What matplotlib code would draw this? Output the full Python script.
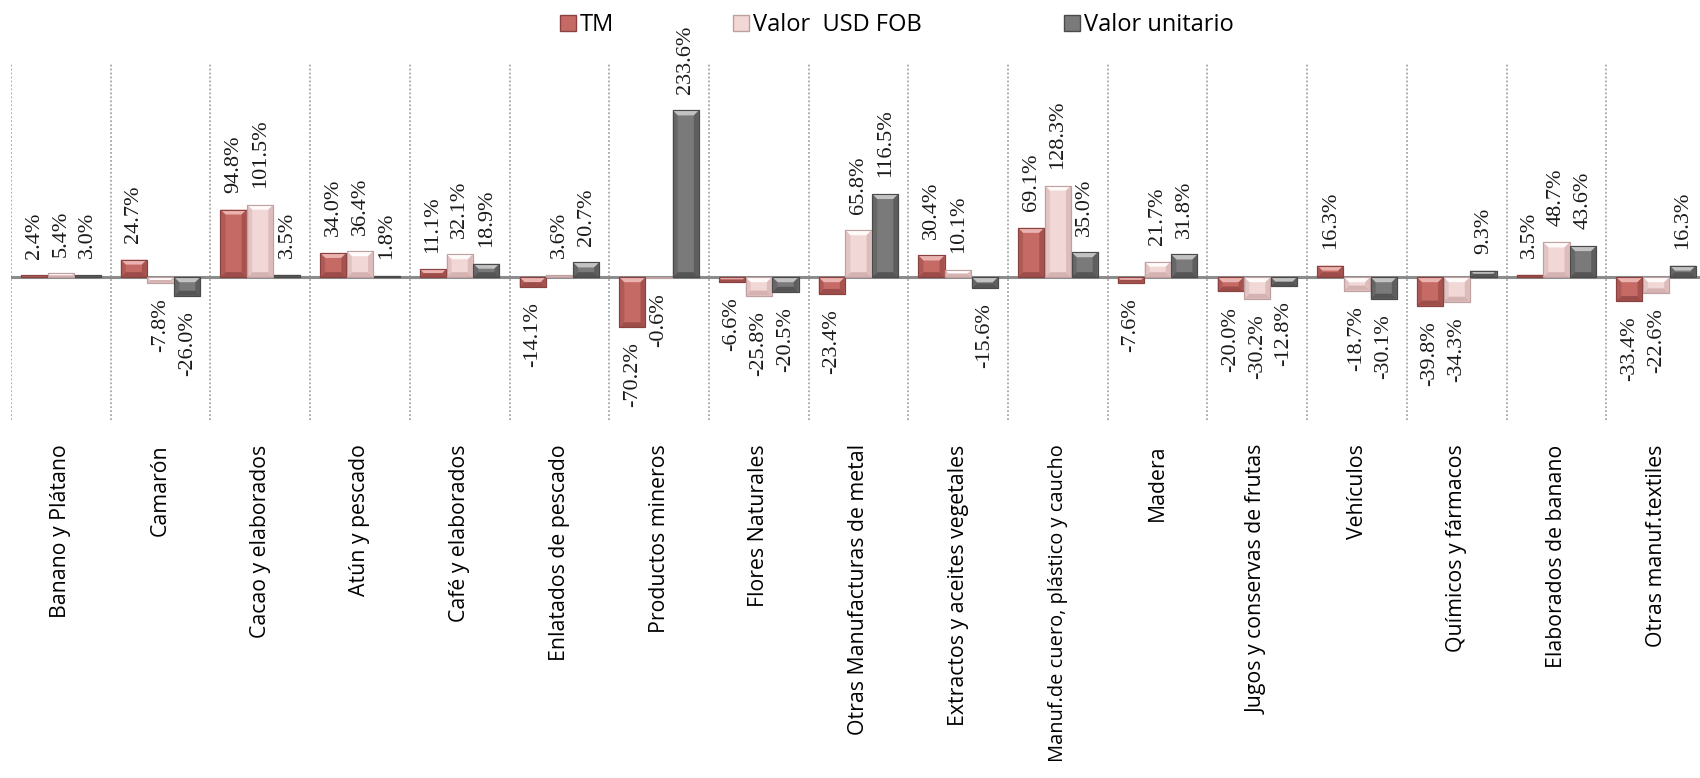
import matplotlib
matplotlib.use("Agg")
import matplotlib.pyplot as plt
from matplotlib.patches import Polygon, Patch
import numpy as np

categories = ["Banano y Plátano", "Camarón", "Cacao y elaborados", "Atún y pescado",
              "Café y elaborados", "Enlatados de pescado", "Productos mineros",
              "Flores Naturales", "Otras Manufacturas de metal",
              "Extractos y aceites vegetales", "Manuf.de cuero, plástico y caucho",
              "Madera", "Jugos y conservas de frutas", "Vehículos",
              "Químicos y fármacos", "Elaborados de banano", "Otras manuf.textiles"]
tm = [2.4, 24.7, 94.8, 34.0, 11.1, -14.1, -70.2, -6.6, -23.4, 30.4, 69.1, -7.6, -20.0, 16.3, -39.8, 3.5, -33.4]
valor = [5.4, -7.8, 101.5, 36.4, 32.1, 3.6, -0.6, -25.8, 65.8, 10.1, 128.3, 21.7, -30.2, -18.7, -34.3, 48.7, -22.6]
unitario = [3.0, -26.0, 3.5, 1.8, 18.9, 20.7, 233.6, -20.5, 116.5, -15.6, 35.0, 31.8, -12.8, -30.1, 9.3, 43.6, 16.3]
series_names = ["TM", "Valor  USD FOB", "Valor unitario"]

# style: (base, light, dark, edge)
styles = [
    ("#c66a66", "#eab3b0", "#9c4c49", "#8a4240"),
    ("#f2d7d7", "#fffafa", "#d6b3b3", "#bfa0a0"),
    ("#7a7a7a", "#c2c2c2", "#555555", "#4a4a4a"),
]

W, H, DPI = 1700, 778, 100
fig = plt.figure(figsize=(W / DPI, H / DPI), dpi=DPI)
ax_left, ax_right, ax_top, ax_bot = 11, 1706, 63, 420
ax = fig.add_axes([ax_left / W, 1 - ax_bot / H, (ax_right - ax_left) / W, (ax_bot - ax_top) / H])
n = len(categories)
x = np.arange(n)
ax.set_xlim(-0.5, n - 0.5)
ax.set_ylim(-200, 300)
for s in ax.spines.values():
    s.set_visible(False)
ax.set_yticks([])

# units per pixel
ux = n / (ax_right - ax_left)
uy = 500 / (ax_bot - ax_top)

bw = 0.262
offsets = [-0.268, 0.0, 0.268]

# category separators
for b in np.arange(-0.5, n, 1.0):
    ax.axvline(b, color="#a6a6a6", lw=1.3, linestyle=(0, (1, 1.2)), zorder=1)

ax.axhline(0, color="#8c8c8c", lw=2.2, zorder=2)

label_font = dict(family=["Liberation Serif", "DejaVu Serif"], size=16, color="#1a1a1a")


def bevel(axis, xc, v, width, style, pxu_x, pxu_y, max_b=5.0, z=3):
    base, light, dark, edge = style
    x0, x1 = xc - width / 2, xc + width / 2
    top, bot = max(0, v), min(0, v)
    hp = (top - bot) / pxu_y
    b = min(max_b, hp / 2.0)
    bx, by = b * pxu_x, b * pxu_y
    if b > 0.3:
        axis.add_patch(Polygon([(x0, top), (x1, top), (x1 - bx, top - by), (x0 + bx, top - by)],
                               closed=True, facecolor=light, edgecolor="none", zorder=z + 1))
        axis.add_patch(Polygon([(x0, top), (x0 + bx, top - by), (x0 + bx, bot + by), (x0, bot)],
                               closed=True, facecolor=dark, edgecolor="none", alpha=0.5, zorder=z + 1))
        axis.add_patch(Polygon([(x1, top), (x1 - bx, top - by), (x1 - bx, bot + by), (x1, bot)],
                               closed=True, facecolor=dark, edgecolor="none", alpha=0.75, zorder=z + 1))
        axis.add_patch(Polygon([(x0, bot), (x0 + bx, bot + by), (x1 - bx, bot + by), (x1, bot)],
                               closed=True, facecolor=dark, edgecolor="none", zorder=z + 1))
        axis.add_patch(Polygon([(x0, top), (x1, top), (x1, bot), (x0, bot)], closed=True,
                               facecolor="none", edgecolor=edge, lw=0.8, zorder=z + 2))


for si, vals in enumerate([tm, valor, unitario]):
    base, light, dark, edge = styles[si]
    xs = x + offsets[si]
    ax.bar(xs, vals, width=bw, color=base, edgecolor=edge, linewidth=0.8, zorder=3)
    for xc, v in zip(xs, vals):
        bevel(ax, xc, v, bw, styles[si], ux, uy)
        if v >= 0:
            ax.annotate(f"{v:.1f}%", (xc, v), xytext=(0, 12), textcoords="offset points",
                        rotation=90, ha="center", va="bottom", **label_font, zorder=6,
                        annotation_clip=False)
        else:
            ax.annotate(f"{v:.1f}%", (xc, v), xytext=(0, -11), textcoords="offset points",
                        rotation=90, ha="center", va="top", **label_font, zorder=6,
                        annotation_clip=False)

ax.set_xticks(x)
ticklabels = ax.set_xticklabels(categories, rotation=90, ha="center", va="top",
                                fontsize=15.3, family=["Open Sans", "DejaVu Sans"], color="black")
ticklabels[10].set_fontsize(14.4)
ax.tick_params(axis="x", length=0, pad=17.5)

# legend entries
leg_x = [560, 733, 1064]
for si in range(3):
    base, light, dark, edge = styles[si]
    h = Patch(facecolor=base, edgecolor=edge, linewidth=1.0)
    fig.legend([h], [series_names[si]], loc="center left",
               bbox_to_anchor=(leg_x[si] / W, 1 - 25 / H), frameon=False,
               prop=dict(family=["Open Sans", "DejaVu Sans"], size=17),
               handlelength=0.68, handleheight=0.68, handletextpad=0.15,
               borderpad=0, borderaxespad=0)

fig.savefig("out.png", dpi=DPI)
